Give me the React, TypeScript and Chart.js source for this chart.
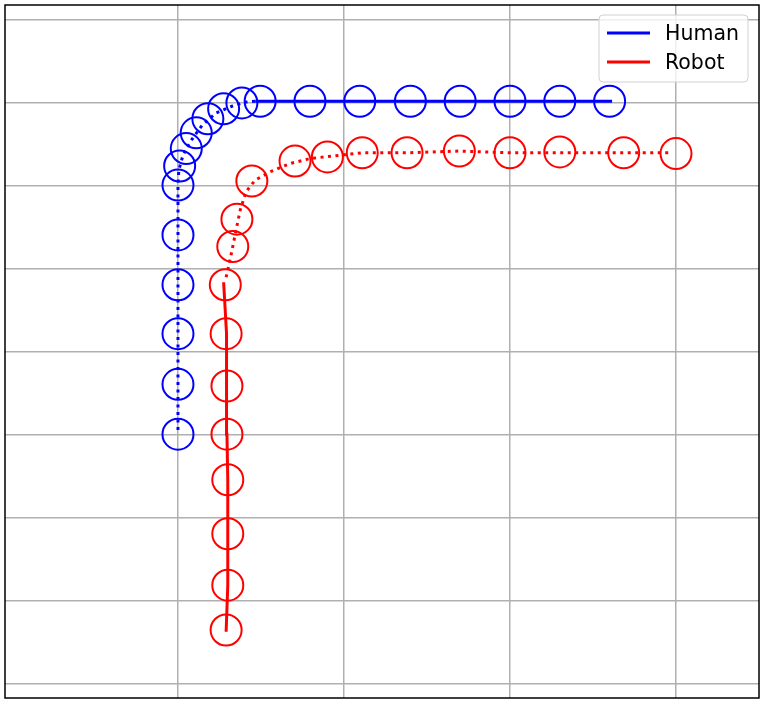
import { useEffect, useRef } from "react";
import { Chart, registerables } from "chart.js";

Chart.register(...registerables);

// Axis limits and tick values (data units)
const xLimits = [-2.084, 7.0];
const yLimits = [-0.169, 8.18];
const xTicks = [0, 2, 4, 6];
const yTicks = [0, 1, 2, 3, 4, 5, 6, 7, 8];

// Human
const humanMarkersX = [0, 0, 0, 0, 0, 0, 0.02, 0.1, 0.22, 0.36, 0.55, 0.77, 0.99, 1.59, 2.19, 2.8, 3.4, 4.0, 4.6, 5.2];
const humanMarkersY = [3.01, 3.61, 4.22, 4.81, 5.41, 6.01, 6.24, 6.45, 6.64, 6.81, 6.93, 7.0, 7.02, 7.02, 7.02, 7.02, 7.02, 7.02, 7.02, 7.02];
const humanDottedX = [0, 0, 0.01, 0.06, 0.16, 0.29, 0.46, 0.65, 0.81, 0.93];
const humanDottedY = [3.06, 6.01, 6.19, 6.37, 6.55, 6.73, 6.88, 6.96, 7.01, 7.02];
const humanSolidX = [0.93, 1.59, 2.19, 2.8, 3.4, 4.0, 4.6, 5.23];
const humanSolidY = [7.02, 7.02, 7.02, 7.02, 7.02, 7.02, 7.02, 7.02];

// Robot
const robotMarkersX = [0.58, 0.6, 0.6, 0.6, 0.59, 0.59, 0.58, 0.57, 0.66, 0.71, 0.89, 1.41, 1.8, 2.22, 2.76, 3.39, 4.0, 4.6, 5.37, 6.0];
const robotMarkersY = [0.65, 1.19, 1.81, 2.46, 3.01, 3.59, 4.22, 4.81, 5.27, 5.6, 6.06, 6.3, 6.35, 6.4, 6.4, 6.42, 6.4, 6.41, 6.4, 6.39];
const robotSolidX = [0.58, 0.6, 0.6, 0.6, 0.59, 0.59, 0.58, 0.55];
const robotSolidY = [0.63, 1.19, 1.81, 2.46, 3.01, 3.59, 4.22, 4.84];
const robotDottedX = [0.58, 0.64, 0.7, 0.75, 0.82, 0.93, 1.11, 1.35, 1.59, 1.95, 2.22, 2.76, 3.39, 4.0, 4.6, 5.37, 5.95];
const robotDottedY = [4.9, 5.17, 5.47, 5.71, 5.93, 6.07, 6.17, 6.27, 6.33, 6.37, 6.4, 6.4, 6.42, 6.4, 6.4, 6.4, 6.4];

const legendLabels = ["Human", "Robot"];
const legendColors = ["#0000ff", "#ff0000"];

const zip = (xs: number[], ys: number[]) => xs.map((x, i) => ({ x, y: ys[i] }));

const framePlugin = {
  id: "frameAndLegend",
  afterDraw(chart: any) {
    const { ctx, chartArea } = chart;
    const { left, top, right, bottom } = chartArea;
    ctx.save();
    ctx.strokeStyle = "#000";
    ctx.lineWidth = 1.5;
    ctx.strokeRect(left, top, right - left, bottom - top);

    // legend
    const bw = 149, bh = 67;
    const bx = right - 11 - bw;
    const by = top + 10;
    const r = 4;
    ctx.beginPath();
    ctx.moveTo(bx + r, by);
    ctx.lineTo(bx + bw - r, by);
    ctx.arcTo(bx + bw, by, bx + bw, by + r, r);
    ctx.lineTo(bx + bw, by + bh - r);
    ctx.arcTo(bx + bw, by + bh, bx + bw - r, by + bh, r);
    ctx.lineTo(bx + r, by + bh);
    ctx.arcTo(bx, by + bh, bx, by + bh - r, r);
    ctx.lineTo(bx, by + r);
    ctx.arcTo(bx, by, bx + r, by, r);
    ctx.closePath();
    ctx.fillStyle = "rgba(255,255,255,0.8)";
    ctx.fill();
    ctx.strokeStyle = "#d0d0d0";
    ctx.lineWidth = 1;
    ctx.stroke();

    ctx.font = '20.5px "DejaVu Sans"';
    ctx.textBaseline = "middle";
    ctx.textAlign = "left";
    legendLabels.forEach((lab, i) => {
      const y = by + 18 + i * 29;
      ctx.strokeStyle = legendColors[i];
      ctx.lineWidth = 3;
      ctx.beginPath();
      ctx.moveTo(bx + 8, y);
      ctx.lineTo(bx + 51, y);
      ctx.stroke();
      ctx.fillStyle = "#000";
      ctx.fillText(lab, bx + 66, y + 2);
    });
    ctx.restore();
  },
};

export default function App() {
  const ref = useRef<HTMLCanvasElement | null>(null);
  useEffect(() => {
    if (!ref.current) return;
    const lineBase = { showLine: true, pointRadius: 0, fill: false, tension: 0, borderWidth: 3 };
    const markerBase = { showLine: false, pointRadius: 15.5, pointBorderWidth: 2, pointBackgroundColor: "rgba(0,0,0,0)", pointStyle: "circle" };
    const chart = new Chart(ref.current, {
      type: "scatter",
      data: {
        datasets: [
          { ...lineBase, label: "Human dotted", data: zip(humanDottedX, humanDottedY), borderColor: "#0000ff", borderDash: [3, 4.5] },
          { ...lineBase, label: "Human", data: zip(humanSolidX, humanSolidY), borderColor: "#0000ff" },
          { ...markerBase, label: "Human markers", data: zip(humanMarkersX, humanMarkersY), pointBorderColor: "#0000ff", borderColor: "#0000ff" },
          { ...lineBase, label: "Robot", data: zip(robotSolidX, robotSolidY), borderColor: "#ff0000" },
          { ...lineBase, label: "Robot dotted", data: zip(robotDottedX, robotDottedY), borderColor: "#ff0000", borderDash: [3, 4.5] },
          { ...markerBase, label: "Robot markers", data: zip(robotMarkersX, robotMarkersY), pointBorderColor: "#ff0000", borderColor: "#ff0000" },
        ] as any,
      },
      options: {
        animation: false,
        responsive: false,
        layout: { autoPadding: false, padding: { left: 5, top: 5, right: 6, bottom: 6 } },
        plugins: { legend: { display: false }, tooltip: { enabled: false } },
        scales: {
          x: {
            type: "linear",
            min: xLimits[0],
            max: xLimits[1],
            afterBuildTicks: (s: any) => { s.ticks = xTicks.map((v) => ({ value: v })); },
            ticks: { display: false },
            grid: { color: "#b0b0b0", lineWidth: 1.5, drawTicks: false },
            border: { display: false },
          },
          y: {
            type: "linear",
            min: yLimits[0],
            max: yLimits[1],
            afterBuildTicks: (s: any) => { s.ticks = yTicks.map((v) => ({ value: v })); },
            ticks: { display: false },
            grid: { color: "#b0b0b0", lineWidth: 1.5, drawTicks: false },
            border: { display: false },
          },
        },
      } as any,
      plugins: [framePlugin],
    });
    return () => chart.destroy();
  }, []);
  return (
    <div style={{ position: "absolute", left: 0, top: 0, width: 765, height: 704 }}>
      <canvas ref={ref} width={765} height={704} style={{ display: "block" }} />
    </div>
  );
}
